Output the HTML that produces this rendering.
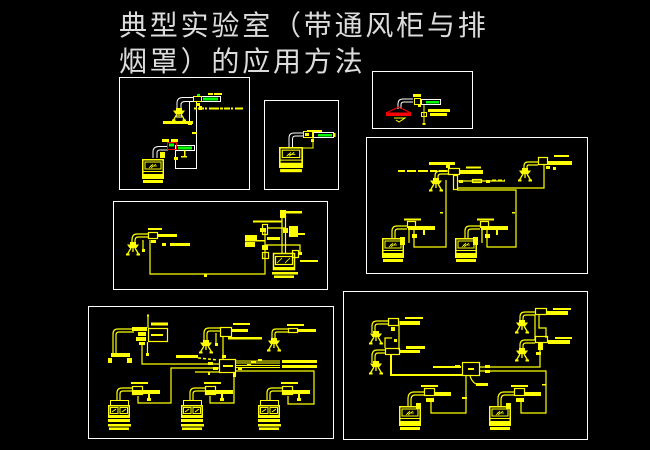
<!DOCTYPE html>
<html><head><meta charset="utf-8">
<style>
html,body{margin:0;padding:0;background:#000;}
body{width:650px;height:450px;overflow:hidden;}
svg{display:block;}
</style></head>
<body>
<svg width="650" height="450" viewBox="0 0 650 450" xmlns="http://www.w3.org/2000/svg">
<defs>
 <g id="fh">
  <rect x="0.75" y="0.75" width="20.5" height="15" fill="none" stroke="#ff0" stroke-width="1.5"/>
  <rect x="3" y="3" width="16" height="7" fill="none" stroke="#ff0"/>
  <path d="M7 9 L11 5 M9 9 L14 5 M8 7 H15" stroke="#ff0" stroke-width="0.8" fill="none"/>
  <line x1="1" y1="12.5" x2="21" y2="12.5" stroke="#ff0"/>
  <rect x="0" y="16" width="22" height="4" fill="#ff0"/>
  <rect x="1" y="21" width="20" height="3" fill="#ff0"/>
 </g>
 <g id="fh2">
  <rect x="2.5" y="0.5" width="18" height="5" fill="none" stroke="#ff0"/>
  <rect x="0.75" y="5.75" width="20.5" height="10" fill="none" stroke="#ff0" stroke-width="1.5"/>
  <rect x="2.5" y="7.5" width="7.5" height="6" fill="none" stroke="#ff0"/>
  <rect x="12" y="7.5" width="7.5" height="6" fill="none" stroke="#ff0"/>
  <path d="M4 12 L8 9 M14 12 L18 9" stroke="#ff0" fill="none"/>
  <rect x="0" y="16" width="22" height="2" fill="#ff0"/>
  <rect x="0" y="19" width="22" height="3" fill="#ff0"/>
  <rect x="0" y="24" width="23" height="2.5" fill="#ff0"/>
  <rect x="1" y="27.5" width="20" height="2.5" fill="#ff0"/>
 </g>
 <g id="cn">
  <rect x="4" y="0" width="6" height="2.5" fill="#ff0"/>
  <path d="M1 2.5 H13 L10.5 6 H3.5 Z" fill="#ff0"/>
  <path d="M5 6 L1.5 12 M9 6 L12.5 12 M7 6 V10" stroke="#ff0" stroke-width="1.3" fill="none"/>
  <rect x="0" y="11.5" width="3.5" height="2" fill="#ff0"/>
  <rect x="10.5" y="11.5" width="3.5" height="2" fill="#ff0"/>
 </g>
</defs>
<rect width="650" height="450" fill="#000"/>

<!-- Title -->
<g font-family="'Liberation Sans','Noto Sans CJK SC',sans-serif" font-size="28" fill="#dcdcdc" letter-spacing="2.8">
 <text x="119" y="35">典型实验室（带通风柜与排</text>
 <text x="119" y="71">烟罩）的应用方法</text>
</g>

<!-- Box frames -->
<g stroke="#fff" fill="none" stroke-width="1">
 <rect x="119.5" y="77.5" width="130" height="112"/>
 <rect x="264.5" y="100.5" width="74" height="89"/>
 <rect x="372.5" y="71.5" width="100" height="57"/>
 <rect x="366.5" y="137.5" width="221" height="136"/>
 <rect x="113.5" y="201.5" width="214" height="88"/>
 <rect x="88.5" y="306.5" width="245" height="132"/>
 <rect x="343.5" y="291.5" width="244" height="148"/>
</g>

<!-- ===== Box A ===== -->
<g stroke="#fff" fill="none" stroke-width="1">
 <path d="M177 118 V103 Q177 97.5 183 97.5 H193"/>
 <path d="M181 118 V105 Q181 101.5 185 101.5 H193"/>
 <path d="M189.5 102 V123"/>
 <path d="M196.5 102 V168.5 H175.5 V150"/>
 <path d="M153 158 V152 Q153 146.5 159 146.5 H168"/>
 <path d="M157 158 V153 Q157 150 160 150 H168"/>
 <rect x="201.5" y="96.5" width="19" height="5"/>
 <rect x="175.5" y="145.5" width="19" height="5"/>
</g>
<rect x="203" y="97.5" width="15" height="3" fill="#0f0"/>
<rect x="178" y="146.5" width="14" height="3" fill="#0f0"/>
<rect x="169" y="143.5" width="5" height="3" fill="#0f0"/>
<rect x="197" y="94" width="3" height="2" fill="#0f0"/>
<rect x="167.5" y="142.5" width="9" height="7" fill="none" stroke="#f00"/>
<g fill="#ff0">
 <use href="#cn" x="172" y="108"/>
 <rect x="163" y="121" width="30" height="3"/>
 <rect x="188" y="122" width="4" height="3"/>
 <rect x="208" y="93" width="5" height="2"/>
 <rect x="214" y="93" width="8" height="2"/>
 <rect x="196" y="103" width="4" height="3"/>
 <rect x="199" y="106" width="3" height="4"/>
 <rect x="162" y="139" width="7" height="3"/>
 <rect x="171" y="139" width="7" height="3"/>
 <rect x="192" y="132" width="5" height="2"/>
 <rect x="184" y="150" width="1.5" height="6"/>
 <rect x="181" y="156" width="6" height="1.5"/>
 <rect x="160" y="152" width="5" height="6"/>
 <rect x="174" y="157" width="4" height="3"/>
 <use href="#fh" x="142" y="159"/>
</g>
<rect x="193.5" y="96.5" width="8" height="5" fill="none" stroke="#ff0"/>
<line x1="194" y1="108.5" x2="243" y2="108.5" stroke="#ff0" stroke-width="2" stroke-dasharray="3 1 6 1 2 2 10 1"/>

<!-- ===== Box B ===== -->
<g stroke="#fff" fill="none" stroke-width="1">
 <path d="M289 147 V138 Q289 133 294 133 H304"/>
 <path d="M292.5 147 V139 Q292.5 136 295.5 136 H304"/>
 <rect x="313.5" y="132.5" width="20" height="5"/>
</g>
<rect x="318" y="134" width="14" height="2.5" fill="#0f0"/>
<g fill="#ff0">
 <use href="#fh" transform="translate(279,147) scale(1.09,1.05)"/>
 <rect x="305" y="133" width="4" height="3"/>
 <rect x="307" y="130" width="15" height="2"/>
 <rect x="333" y="133" width="2.5" height="4"/>
 <rect x="311" y="139" width="3" height="3"/>
</g>
<rect x="303.5" y="131.5" width="9" height="6" fill="none" stroke="#ff0"/>
<path d="M313 138 V148 H303" stroke="#ff0" fill="none"/>

<!-- ===== Box C ===== -->
<g stroke="#fff" fill="none" stroke-width="1">
 <path d="M398 109 V104 Q398 99 403 99 H413"/>
 <path d="M401 109 V105 Q401 102 404 102 H413"/>
 <rect x="421.5" y="99.5" width="19" height="5"/>
</g>
<rect x="426" y="101" width="13" height="2.5" fill="#0f0"/>
<path d="M386 113 L398.5 107 L411 113 Z" fill="none" stroke="#f00"/>
<rect x="386" y="113" width="25" height="3" fill="#f00"/>
<g fill="#ff0">
 <rect x="413" y="94" width="8" height="3"/>
 <rect x="418" y="104" width="3" height="3"/>
 <rect x="422.5" y="123" width="3" height="2"/>
 <rect x="428" y="109" width="22" height="3"/>
 <rect x="430" y="113" width="17" height="3"/>
</g>
<g stroke="#ff0" fill="none">
 <rect x="414.5" y="98.5" width="6" height="6"/>
 <path d="M394 118 H405 L399 122 L396 120"/>
 <rect x="421.5" y="112.5" width="5" height="4"/>
 <path d="M424 105 V124"/>
</g>

<!-- ===== Box D ===== -->
<g stroke="#ff0" fill="none" stroke-width="1.2">
 <path d="M457 190 H516 V247 H487 V230"/>
 <path d="M457 188 H544 V165"/>
 <path d="M446 180 V247 H414 V230"/>
 <path d="M457 181 H505"/>
 <path d="M435 180 V176 Q435 171 440 171 H448"/>
 <path d="M438 180 V177 Q438 174 441 174 H448"/>
 <path d="M524 170 V166 Q524 162 528 162 H538"/>
 <path d="M527 170 V167 Q527 165 529 165 H538"/>
 <path d="M392 238 V231 Q392 226 397 226 H407"/>
 <path d="M395 238 V232 Q395 229 398 229 H407"/>
 <path d="M465 238 V231 Q465 226 470 226 H480"/>
 <path d="M468 238 V232 Q468 229 471 229 H480"/>
 <rect x="448.5" y="168.5" width="11" height="6"/>
 <rect x="453.5" y="175.5" width="4" height="14"/>
 <rect x="472.5" y="179.5" width="9" height="3"/>
 <rect x="538.5" y="157.5" width="9" height="7"/>
 <rect x="407.5" y="221.5" width="8" height="6"/>
 <rect x="480.5" y="221.5" width="8" height="6"/>
 <path d="M409 230 V243 M482 230 V243"/>
</g>
<line x1="398" y1="171" x2="447" y2="171" stroke="#ff0" stroke-width="2" stroke-dasharray="7 2 9 2 10 2"/>
<line x1="492" y1="180.5" x2="505" y2="180.5" stroke="#ff0" stroke-width="2" stroke-dasharray="4 2"/>
<g fill="#ff0">
 <rect x="429" y="162" width="26" height="3"/>
 <rect x="446" y="165" width="4" height="3"/>
 <rect x="460" y="170" width="23" height="4"/>
 <rect x="466" y="166.5" width="15" height="2"/>
 <rect x="459" y="180" width="4" height="3"/>
 <rect x="486" y="180" width="4" height="3"/>
 <rect x="440" y="212" width="3" height="1.5"/>
 <rect x="512" y="212" width="3" height="1.5"/>
 <use href="#cn" x="429" y="178"/>
 <use href="#cn" x="518" y="168"/>
 <rect x="547" y="161" width="25" height="4"/>
 <rect x="554" y="155" width="15" height="2"/>
 <rect x="546" y="166" width="4" height="3"/>
 <rect x="553" y="167" width="3" height="3"/>
 <rect x="404" y="218.5" width="17" height="2"/>
 <rect x="408" y="226" width="27" height="4"/>
 <rect x="412" y="234" width="5" height="4"/>
 <rect x="423" y="230" width="2" height="5"/>
 <rect x="400" y="237" width="5" height="8"/>
 <rect x="477" y="218.5" width="17" height="2"/>
 <rect x="481" y="226" width="27" height="4"/>
 <rect x="485" y="234" width="5" height="4"/>
 <rect x="496" y="230" width="2" height="5"/>
 <rect x="473" y="237" width="5" height="8"/>
 <use href="#fh" x="382" y="238"/>
 <use href="#fh" x="455" y="238"/>
</g>

<!-- ===== Box E ===== -->
<g stroke="#ff0" fill="none" stroke-width="1.2">
 <path d="M150 240 V274 H265 V232"/>
 <path d="M132 245 V240 Q132 234 137 234 H148"/>
 <path d="M135 245 V241 Q135 237 138 237 H148"/>
 <rect x="148.5" y="232.5" width="9" height="6"/>
 <path d="M143 240 V250"/>
 <path d="M282 215 V253 M285.5 215 V253"/>
 <rect x="273.5" y="253.5" width="21" height="16" stroke-width="1.5"/>
 <rect x="275.5" y="256.5" width="17" height="8"/>
 <path d="M277 263 L282 258 M285 263 L290 258" stroke-width="0.8"/>
 <path d="M265 245 H300 V255"/>
 <path d="M268 228 H285"/>
 <rect x="262.5" y="224.5" width="5" height="10"/>
 <rect x="292.5" y="250.5" width="6" height="7"/>
 <rect x="262.5" y="252.5" width="6" height="6"/>
</g>
<g fill="#ff0">
 <use href="#cn" x="126" y="242"/>
 <rect x="151" y="240" width="5" height="3"/>
 <rect x="158" y="234" width="19" height="3"/>
 <rect x="148" y="228" width="14" height="2"/>
 <rect x="170" y="243" width="20" height="3"/>
 <rect x="162" y="243" width="4" height="3"/>
 <rect x="142" y="249" width="3" height="3"/>
 <rect x="204" y="274" width="3" height="3"/>
 <rect x="280" y="210" width="6" height="8"/>
 <rect x="286" y="211" width="16" height="2.5"/>
 <rect x="253" y="220.5" width="29" height="2"/>
 <rect x="260" y="228" width="6" height="4"/>
 <rect x="283" y="228" width="5" height="5"/>
 <rect x="289" y="226" width="9" height="11"/>
 <rect x="298" y="233" width="7" height="2"/>
 <rect x="245" y="235" width="12" height="5"/>
 <rect x="245" y="242" width="10" height="5"/>
 <rect x="245" y="240" width="20" height="1.5"/>
 <rect x="267" y="237" width="13" height="3"/>
 <rect x="262" y="245" width="6" height="5"/>
 <rect x="298" y="252" width="4" height="3"/>
 <rect x="300" y="260" width="18" height="2"/>
 <rect x="273" y="267" width="22" height="3"/>
 <rect x="272" y="272" width="26" height="2.5"/>
 <rect x="274" y="275.5" width="20" height="2.5"/>
</g>

<!-- ===== Box F ===== -->
<g stroke="#ff0" fill="none" stroke-width="1.2">
 <path d="M113 353 V334 Q113 329 118 329 H134"/>
 <path d="M116 353 V335 Q116 332 119 332 H134"/>
 <rect x="148.5" y="328.5" width="19" height="13"/>
 <path d="M148 315 V328"/>
 <path d="M147.5 342 V354"/>
 <path d="M142 345 V364 H219"/>
 <rect x="219.5" y="359.5" width="16" height="13"/>
 <path d="M219 368 H171 V403 H138 V396"/>
 <path d="M195 372 H219"/>
 <path d="M234 373 V403 H210 V396"/>
 <path d="M236 361 H280 M236 363 H280 M236 365.5 H280 M236 367.5 H280" stroke-width="1"/>
 <path d="M236 371 H314 V404 H288 V396"/>
 <path d="M204 342 V333 Q204 328 209 328 H220"/>
 <path d="M207 342 V334 Q207 331 210 331 H220"/>
 <rect x="220.5" y="327.5" width="11" height="9"/>
 <path d="M223 337 V359"/>
 <path d="M216 333 V345"/>
 <path d="M272 340 V333 Q272 329 276 329 H288"/>
 <path d="M275 340 V334 Q275 332 277 332 H288"/>
 <rect x="288.5" y="328.5" width="9" height="4"/>
 <g>
  <path d="M117 400 V393 Q117 388 122 388 H132"/>
  <path d="M120 400 V394 Q120 391 123 391 H132"/>
  <rect x="132.5" y="386.5" width="10" height="8"/>
 </g>
 <g transform="translate(73,0)">
  <path d="M117 400 V393 Q117 388 122 388 H132"/>
  <path d="M120 400 V394 Q120 391 123 391 H132"/>
  <rect x="132.5" y="386.5" width="10" height="8"/>
 </g>
 <g transform="translate(150,0)">
  <path d="M117 400 V393 Q117 388 122 388 H132"/>
  <path d="M120 400 V394 Q120 391 123 391 H132"/>
  <rect x="132.5" y="386.5" width="10" height="8"/>
 </g>
</g>
<line x1="198" y1="358" x2="218" y2="360" stroke="#ff0" stroke-width="1.5" stroke-dasharray="3 2"/>
<g fill="#ff0">
 <rect x="111" y="353" width="19" height="4"/>
 <rect x="108" y="358" width="4" height="5"/>
 <rect x="127" y="358" width="5" height="5"/>
 <rect x="132" y="327" width="6" height="4"/>
 <rect x="138" y="327" width="9" height="4"/>
 <rect x="138" y="332" width="8" height="4"/>
 <rect x="136" y="337" width="10" height="4"/>
 <rect x="139" y="342" width="6" height="3"/>
 <rect x="147" y="314.5" width="2" height="2"/>
 <rect x="151" y="322.5" width="17" height="3"/>
 <rect x="151" y="334" width="12" height="2"/>
 <rect x="146" y="353" width="3" height="3"/>
 <rect x="176" y="355" width="22" height="3"/>
 <rect x="223" y="365" width="10" height="2"/>
 <rect x="208" y="362" width="5" height="3"/>
 <rect x="213" y="367" width="5" height="3"/>
 <rect x="208" y="372" width="2" height="3"/>
 <rect x="233" y="373" width="3" height="4"/>
 <rect x="258" y="359" width="4" height="2"/>
 <rect x="251" y="361" width="5" height="2"/>
 <rect x="247" y="364" width="4" height="2"/>
 <rect x="238" y="368" width="4" height="2"/>
 <rect x="282" y="360" width="35" height="3"/>
 <rect x="282" y="365" width="35" height="3"/>
 <use href="#cn" x="199" y="340"/>
 <rect x="232" y="329" width="16" height="3"/>
 <rect x="233" y="323" width="17" height="2"/>
 <rect x="228" y="337" width="34" height="2.5"/>
 <rect x="215" y="343" width="3" height="3"/>
 <rect x="222" y="355" width="4" height="3"/>
 <use href="#cn" x="267" y="338"/>
 <rect x="298" y="329" width="18" height="3"/>
 <rect x="287" y="324" width="17" height="2"/>
 <g>
  <rect x="133" y="390" width="27" height="4"/>
  <rect x="131" y="382" width="17" height="2"/>
  <rect x="148" y="394" width="2" height="5"/>
  <rect x="147" y="398" width="4" height="3"/>
  <use href="#fh2" x="108" y="400"/>
 </g>
 <g transform="translate(73,0)">
  <rect x="133" y="390" width="27" height="4"/>
  <rect x="131" y="382" width="17" height="2"/>
  <rect x="148" y="394" width="2" height="5"/>
  <rect x="147" y="398" width="4" height="3"/>
  <use href="#fh2" x="108" y="400"/>
 </g>
 <g transform="translate(150,0)">
  <rect x="133" y="390" width="27" height="4"/>
  <rect x="131" y="382" width="17" height="2"/>
  <rect x="148" y="394" width="2" height="5"/>
  <rect x="147" y="398" width="4" height="3"/>
  <use href="#fh2" x="108" y="400"/>
 </g>
</g>

<!-- ===== Box G ===== -->
<g stroke="#ff0" fill="none" stroke-width="1.2">
 <path d="M372 333 V326 Q372 321 377 321 H388"/>
 <path d="M375 333 V327 Q375 324 378 324 H388"/>
 <rect x="388.5" y="318.5" width="10" height="7"/>
 <path d="M399 321 V350"/>
 <path d="M372 363 V356 Q372 350 377 350 H385"/>
 <path d="M375 363 V357 Q375 353 378 353 H385"/>
 <rect x="385.5" y="348.5" width="14" height="6"/>
 <path d="M385 348 V338 H392"/>
 <path d="M391 355 V375 H462" stroke-width="2"/>
 <rect x="462.5" y="362.5" width="17" height="13"/>
 <path d="M480 367 H540 V352"/>
 <path d="M480 371 H546 V413 H521 V398"/>
 <path d="M466 376 V413 H431 V398"/>
 <path d="M470 376 Q472 382 476 384"/>
 <path d="M520 322 V317 Q520 312 525 312 H535"/>
 <path d="M523 322 V318 Q523 315 526 315 H535"/>
 <rect x="535.5" y="308.5" width="11" height="6"/>
 <path d="M535 315 V340 M539 315 V328 H546 V338"/>
 <path d="M520 350 V345 Q520 340 525 340 H535"/>
 <path d="M523 350 V346 Q523 343 526 343 H535"/>
 <rect x="535.5" y="336.5" width="12" height="6"/>
 <path d="M540 343 V352"/>
 <g>
  <path d="M408 406 V399 Q408 392 414 392 H424"/>
  <path d="M411 406 V400 Q411 395 415 395 H424"/>
  <rect x="424.5" y="388.5" width="10" height="7"/>
 </g>
 <g transform="translate(90,0)">
  <path d="M408 406 V399 Q408 392 414 392 H424"/>
  <path d="M411 406 V400 Q411 395 415 395 H424"/>
  <rect x="424.5" y="388.5" width="10" height="7"/>
 </g>
</g>
<g fill="#ff0">
 <use href="#cn" x="369" y="331"/>
 <use href="#cn" x="369" y="361"/>
 <use href="#cn" x="515" y="320"/>
 <use href="#cn" x="515" y="348"/>
 <rect x="400" y="321" width="20" height="4"/>
 <rect x="400" y="350" width="20" height="3"/>
 <rect x="546" y="311" width="22" height="4"/>
 <rect x="548" y="340" width="22" height="4"/>
 <rect x="405" y="317" width="18" height="2"/>
 <rect x="406" y="346" width="19" height="3"/>
 <rect x="553" y="308" width="18" height="2"/>
 <rect x="555" y="337" width="17" height="2"/>
 <rect x="433" y="366" width="28" height="2"/>
 <rect x="391" y="327" width="4" height="4"/>
 <rect x="394" y="339" width="3" height="3"/>
 <rect x="455" y="365" width="5" height="3"/>
 <rect x="485" y="365" width="5" height="3"/>
 <rect x="485" y="370" width="5" height="3"/>
 <rect x="468" y="368" width="6" height="2"/>
 <rect x="476" y="383" width="12" height="3"/>
 <rect x="542" y="384" width="4" height="1.5"/>
 <rect x="462" y="397" width="5" height="2"/>
 <rect x="538" y="343" width="5" height="7"/>
 <rect x="536" y="352" width="5" height="3"/>
 <g>
  <rect x="435" y="392" width="16" height="4"/>
  <rect x="421" y="385" width="17" height="2"/>
  <rect x="426" y="398" width="8" height="4"/>
  <rect x="416" y="403" width="5" height="6"/>
  <use href="#fh" x="399" y="406"/>
 </g>
 <g transform="translate(90,0)">
  <rect x="435" y="392" width="16" height="4"/>
  <rect x="421" y="385" width="17" height="2"/>
  <rect x="426" y="398" width="8" height="4"/>
  <rect x="416" y="403" width="5" height="6"/>
  <use href="#fh" x="399" y="406"/>
 </g>
</g>
</svg>
</body>
</html>
